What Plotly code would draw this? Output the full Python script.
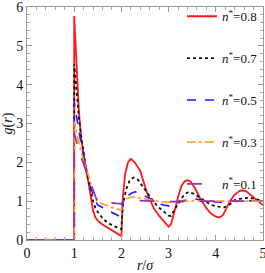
import plotly.graph_objects as go

# r/sigma sample points and g(r) values
r_08 = [0, 1, 1, 1.05, 1.1, 1.15, 1.2, 1.25, 1.3, 1.35, 1.4, 1.45, 1.5, 1.6, 1.7, 1.8, 1.9, 2.0,
        2.03, 2.08, 2.14, 2.2, 2.28, 2.4, 2.54, 2.69, 2.8, 2.9, 3.0, 3.05, 3.1, 3.15, 3.22, 3.28, 3.34, 3.4,
        3.47, 3.55, 3.68, 3.8, 3.9, 4.0, 4.08, 4.15, 4.22, 4.3, 4.4, 4.5, 4.57, 4.65, 4.75, 4.85, 5.0]
g_08 = [0, 0, 5.77, 4.4, 3.3, 2.6, 2.15, 1.8, 1.5, 1.1, 0.75, 0.58, 0.5, 0.4, 0.32, 0.25, 0.17, 0.1,
        1.1, 1.7, 2.0, 2.09, 2.0, 1.78, 1.22, 0.81, 0.62, 0.48, 0.34, 0.4, 0.6, 0.85, 1.2, 1.41, 1.51, 1.54,
        1.5, 1.35, 1.05, 0.82, 0.68, 0.6, 0.58, 0.64, 0.8, 1.0, 1.17, 1.26, 1.28, 1.25, 1.15, 1.04, 0.9]

r_07 = [0, 1, 1, 1.05, 1.1, 1.15, 1.2, 1.25, 1.3, 1.35, 1.4, 1.45, 1.5, 1.6, 1.7, 1.8, 1.9, 2.0,
        2.03, 2.1, 2.18, 2.26, 2.35, 2.5, 2.6, 2.7, 2.8, 2.9, 3.0, 3.05, 3.15, 3.25, 3.35, 3.43, 3.55,
        3.68, 3.8, 3.9, 4.05, 4.18, 4.3, 4.39, 4.5, 4.6, 4.71, 4.85, 5.0]
g_07 = [0, 0, 4.53, 3.8, 3.15, 2.65, 2.2, 1.85, 1.55, 1.25, 1.0, 0.82, 0.72, 0.56, 0.45, 0.38, 0.33, 0.28,
        0.9, 1.3, 1.55, 1.61, 1.55, 1.3, 1.12, 0.96, 0.83, 0.72, 0.63, 0.62, 0.82, 1.04, 1.19, 1.24, 1.18,
        1.07, 0.97, 0.9, 0.86, 0.84, 0.92, 1.02, 1.06, 1.08, 1.09, 1.05, 1.0]

r_05 = [0, 1, 1, 1.05, 1.1, 1.15, 1.2, 1.25, 1.3, 1.35, 1.4, 1.45, 1.5, 1.6, 1.7, 1.8, 1.9, 2.0,
        2.03, 2.1, 2.2, 2.29, 2.4, 2.5, 2.6, 2.7, 2.8, 2.9, 3.0, 3.1, 3.2, 3.3, 3.45, 3.55, 3.7, 3.85,
        4.0, 4.15, 4.3, 4.5, 4.7, 5.0]
g_05 = [0, 0, 3.55, 3.15, 2.8, 2.45, 2.15, 1.85, 1.6, 1.35, 1.15, 1.0, 0.9, 0.83, 0.77, 0.71, 0.65, 0.58,
        0.95, 1.1, 1.2, 1.24, 1.2, 1.13, 1.05, 0.98, 0.93, 0.9, 0.88, 0.9, 0.96, 1.01, 1.05, 1.06, 1.03, 1.0,
        0.98, 0.97, 0.99, 1.01, 1.01, 1.0]

r_03 = [0, 1, 1, 1.05, 1.1, 1.15, 1.2, 1.25, 1.3, 1.35, 1.4, 1.45, 1.5, 1.6, 1.7, 1.8, 1.9, 2.0,
        2.03, 2.1, 2.2, 2.3, 2.45, 2.6, 2.8, 3.0, 3.2, 3.5, 4.0, 5.0]
g_03 = [0, 0, 3.05, 2.75, 2.5, 2.25, 2.05, 1.85, 1.65, 1.45, 1.25, 1.08, 0.97, 0.92, 0.88, 0.84, 0.8, 0.77,
        1.0, 1.06, 1.1, 1.1, 1.07, 1.03, 0.99, 0.97, 0.99, 1.01, 1.0, 1.0]

r_01 = [0, 1, 1, 1.05, 1.1, 1.15, 1.2, 1.25, 1.3, 1.35, 1.4, 1.45, 1.5, 1.7, 1.85, 2.0,
        2.03, 2.15, 2.3, 2.6, 3.0, 3.5, 5.0]
g_01 = [0, 0, 2.75, 2.5, 2.3, 2.12, 1.95, 1.8, 1.65, 1.48, 1.3, 1.12, 0.99, 0.96, 0.94, 0.93,
        1.0, 1.02, 1.02, 1.01, 0.99, 1.0, 1.0]

labels = ["0.8", "0.7", "0.5", "0.3", "0.1"]
xs = [r_08, r_07, r_05, r_03, r_01]
ys = [g_08, g_07, g_05, g_03, g_01]
colors = ["#ff1a1a", "#111111", "#1a1aff", "#ff9922", "#9933a0"]
dashes = ["solid", "dot", "dash", "dashdot", "longdash"]
widths = [1.8, 1.8, 1.6, 1.6, 1.8]

fig = go.Figure()
for lab, x, y, c, d, w in zip(labels, xs, ys, colors, dashes, widths):
    fig.add_trace(go.Scatter(x=x, y=y, mode="lines", name=f"<i>n</i><sup>*</sup>=" + lab,
                             legendgroup=lab,
                             line=dict(color=c, dash=d, width=w)))

font = dict(family="Liberation Serif", size=14, color="#111")
legfont = dict(family="Liberation Serif", size=13, color="#111")
axis_common = dict(showgrid=False, zeroline=False, showline=True, mirror="ticks",
                   linecolor="#999", linewidth=1, ticks="inside", ticklen=5, tickcolor="#999",
                   tickfont=font, automargin=False, ticklabeloverflow="allow")
fig.update_xaxes(range=[0, 5], dtick=1, **axis_common,
                 minor=dict(ticks="inside", ticklen=3, dtick=0.2, tickcolor="#aaa"),
                 title=dict(text="<i>r</i>/<i>σ</i>", font=font, standoff=1))
fig.update_yaxes(range=[0, 6], dtick=1, **axis_common,
                 minor=dict(ticks="inside", ticklen=3, dtick=0.2, tickcolor="#aaa"),
                 title=dict(text="<i>g</i>(<i>r</i>)", font=font, standoff=0))
fig.update_layout(
    width=265, height=273,
    margin=dict(l=27, r=2, t=6, b=33),
    paper_bgcolor="white", plot_bgcolor="white",
    font=font,
    showlegend=True,
    legend=dict(x=1, xanchor="right", y=1.02, yanchor="top", bgcolor="rgba(0,0,0,0)",
                tracegroupgap=22, font=legfont, traceorder="grouped", maxheight=400),
)
fig.write_html("out.html", config={"displayModeBar": False},
               post_script="document.body.style.margin='0';")
